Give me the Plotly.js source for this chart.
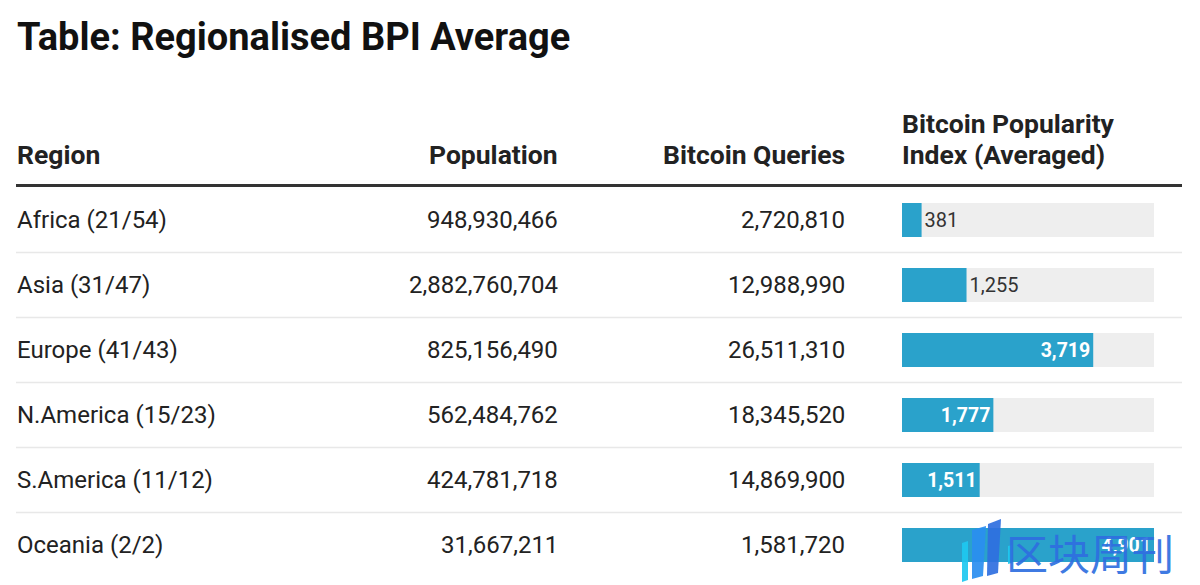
<!DOCTYPE html>
<html>
<head>
<meta charset="utf-8">
<script src="https://cdn.plot.ly/plotly-3.0.1.min.js"></script>
<style>html,body{margin:0;padding:0;background:#fff;}#chart{width:1200px;height:585px;}</style>
</head>
<body>
<div id="chart"></div>
<script>
const title = 'Table: Regionalised BPI Average';
const headers = ['Region', 'Population', 'Bitcoin Queries', 'Bitcoin Popularity', 'Index (Averaged)'];
const regions = ['Africa (21/54)', 'Asia (31/47)', 'Europe (41/43)', 'N.America (15/23)', 'S.America (11/12)', 'Oceania (2/2)'];
const population = [948930466, 2882760704, 825156490, 562484762, 424781718, 31667211];
const queries = [2720810, 12988990, 26511310, 18345520, 14869900, 1581720];
const bpi = [381, 1255, 3719, 1777, 1511, 4901];
const watermark = '区块周刊';

const W = 1200, H = 585;
const px = x => x / W;
const py = y => 1 - y / H;
const fmt = v => v.toLocaleString('en-US');
const maxBpi = Math.max(...bpi);

const FONT = 'Roboto, "Liberation Sans", sans-serif';
const TXT = '#222222';

const track = {
  type: 'bar', orientation: 'h', y: regions, x: regions.map(() => maxBpi),
  marker: {color: '#eeeeee'}, width: 0.52, hoverinfo: 'skip', showlegend: false
};
const bars = {
  type: 'bar', orientation: 'h', y: regions, x: bpi,
  marker: {color: '#2aa2cb'}, width: 0.52,
  text: bpi.map(fmt),
  textposition: bpi.map(v => v / maxBpi > 0.3 ? 'inside' : 'outside'),
  insidetextanchor: 'end',
  insidetextfont: {family: FONT, size: 19.5, color: '#ffffff', weight: 'bold'},
  outsidetextfont: {family: FONT, size: 20, color: '#333333'},
  cliponaxis: false, constraintext: 'none',
  hoverinfo: 'skip', showlegend: false
};

const ann = [];
ann.push({xref: 'paper', yref: 'paper', x: px(15), y: py(37), xanchor: 'left', yanchor: 'middle',
  text: '<b>' + title + '</b>', showarrow: false, font: {family: FONT, size: 38, color: '#111111'}});
const hdrFont = {family: FONT, size: 26.5, color: TXT};
ann.push({xref: 'paper', yref: 'paper', x: px(15), y: py(155), xanchor: 'left', yanchor: 'middle', text: '<b>' + headers[0] + '</b>', showarrow: false, font: hdrFont});
ann.push({xref: 'paper', yref: 'paper', x: px(560), y: py(155), xanchor: 'right', yanchor: 'middle', text: '<b>' + headers[1] + '</b>', showarrow: false, font: hdrFont});
ann.push({xref: 'paper', yref: 'paper', x: px(847), y: py(155), xanchor: 'right', yanchor: 'middle', text: '<b>' + headers[2] + '</b>', showarrow: false, font: hdrFont});
ann.push({xref: 'paper', yref: 'paper', x: px(900), y: py(123), xanchor: 'left', yanchor: 'middle', text: '<b>' + headers[3] + '</b>', showarrow: false, font: hdrFont});
ann.push({xref: 'paper', yref: 'paper', x: px(900), y: py(155), xanchor: 'left', yanchor: 'middle', text: '<b>' + headers[4] + '</b>', showarrow: false, font: hdrFont});

const cellFont = {family: FONT, size: 24, color: TXT};
regions.forEach((r, i) => {
  ann.push({xref: 'paper', yref: 'y', x: px(15), y: r, xanchor: 'left', yanchor: 'middle', text: r, showarrow: false, font: cellFont});
  ann.push({xref: 'paper', yref: 'y', x: px(560), y: r, xanchor: 'right', yanchor: 'middle', text: fmt(population[i]), showarrow: false, font: cellFont});
  ann.push({xref: 'paper', yref: 'y', x: px(847), y: r, xanchor: 'right', yanchor: 'middle', text: fmt(queries[i]), showarrow: false, font: cellFont});
});
ann.push({xref: 'paper', yref: 'paper', x: px(1176), y: py(551), xanchor: 'right', yanchor: 'middle',
  text: watermark, showarrow: false, opacity: 0.92,
  font: {family: '"Noto Sans CJK SC", sans-serif', size: 42, color: '#2f6fe0'}});

const shapes = [];
shapes.push({type: 'line', xref: 'paper', yref: 'paper', x0: px(16), x1: px(1182), y0: py(185.5), y1: py(185.5), line: {color: '#333333', width: 3}});
for (let i = 0; i < regions.length - 1; i++) {
  shapes.push({type: 'line', xref: 'paper', yref: 'y', x0: px(16), x1: px(1182), y0: i + 0.5, y1: i + 0.5, line: {color: '#e8e8e8', width: 1.5}});
}
// stylized watermark logo (slanted bars), drawn in pixel space
const P = (x, y) => px(x).toFixed(5) + ',' + py(y).toFixed(5);
const logoPath = (pts) => 'M' + pts.map(p => P(p[0], p[1])).join(' L') + ' Z';
const logo = [
  [[[962, 543], [968, 541], [968, 580], [962, 582]], '#1ec8f0'],
  [[[972, 530], [986, 526], [983, 576], [972, 579]], '#2a8ef0'],
  [[[988, 524], [1001, 519], [998, 573], [987, 576]], '#2f6fe0'],
  [[[1008, 546], [1012, 545], [1012, 563], [1008, 564]], '#1ec8f0']
];
logo.forEach(l => shapes.push({type: 'path', xref: 'paper', yref: 'paper', path: logoPath(l[0]), fillcolor: l[1], line: {width: 0}, opacity: 0.92}));

const layout = {
  width: W, height: H,
  margin: {l: 0, r: 0, t: 0, b: 0},
  paper_bgcolor: '#ffffff', plot_bgcolor: 'rgba(0,0,0,0)',
  barmode: 'overlay',
  xaxis: {domain: [px(902), px(1154)], range: [0, maxBpi], showgrid: false, zeroline: false, showticklabels: false, showline: false, fixedrange: true},
  yaxis: {domain: [py(577.5), py(187.5)], type: 'category', categoryarray: regions, categoryorder: 'array',
    range: [regions.length - 0.5, -0.5], showgrid: false, zeroline: false, showticklabels: false, showline: false, fixedrange: true},
  annotations: ann,
  shapes: shapes,
  font: {family: FONT}
};

Plotly.newPlot('chart', [track, bars], layout, {displayModeBar: false, staticPlot: true});
</script>
</body>
</html>
